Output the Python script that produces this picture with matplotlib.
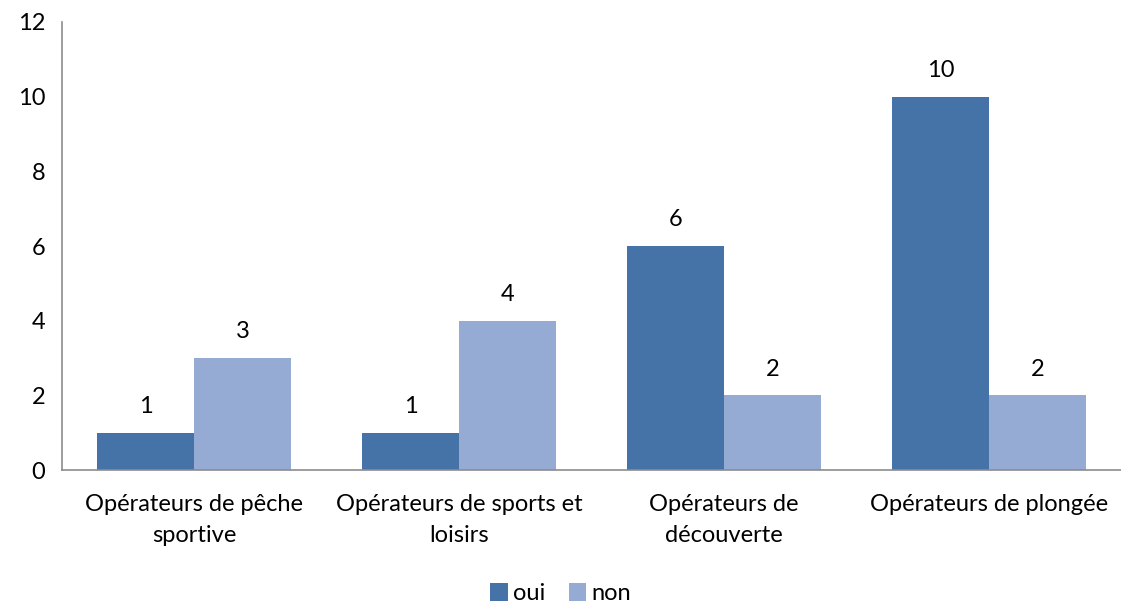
import matplotlib
matplotlib.use('Agg')
import matplotlib.pyplot as plt
import numpy as np

plt.rcParams['font.family'] = ['Lato', 'DejaVu Sans']

categories = ['Opérateurs de pêche\nsportive', 'Opérateurs de sports et\nloisirs',
              'Opérateurs de\ndécouverte', 'Opérateurs de plongée']
oui = [1, 1, 6, 10]
non = [3, 4, 2, 2]

fig = plt.figure(figsize=(11.21, 6.06), dpi=100)
ax = fig.add_axes([0.0553, 0.2244, 0.945, 0.7393])

x = np.arange(len(categories))
w = 0.366
b1 = ax.bar(x - w / 2, oui, w, color='#4573A7', label='oui')
b2 = ax.bar(x + w / 2, non, w, color='#95ABD3', label='non')

for bars, vals in ((b1, oui), (b2, non)):
    for rect, v in zip(bars, vals):
        ax.text(rect.get_x() + rect.get_width() / 2, v + 0.42, str(v),
                ha='center', va='bottom', fontsize=17)

ax.set_xlim(-0.5, 3.5)
ax.set_ylim(0, 12)
ax.set_yticks(range(0, 13, 2))
ax.set_xticks(x)
ax.set_xticklabels(categories, fontsize=17, linespacing=1.6, va='top')
ax.tick_params(axis='y', length=0, labelsize=17, pad=12)
ax.tick_params(axis='x', length=0, pad=17)
for s in ['top', 'right']:
    ax.spines[s].set_visible(False)
for s in ['left', 'bottom']:
    ax.spines[s].set_color('#8c8c8c')
    ax.spines[s].set_linewidth(1.2)

fig.legend(handles=[b1, b2], labels=['oui', 'non'], loc='center',
           bbox_to_anchor=(0.5, 0.02), ncol=2, frameon=False, fontsize=17,
           handlelength=0.75, handleheight=0.75, handletextpad=0.2, columnspacing=1.0)

fig.savefig('out.png', dpi=100)
